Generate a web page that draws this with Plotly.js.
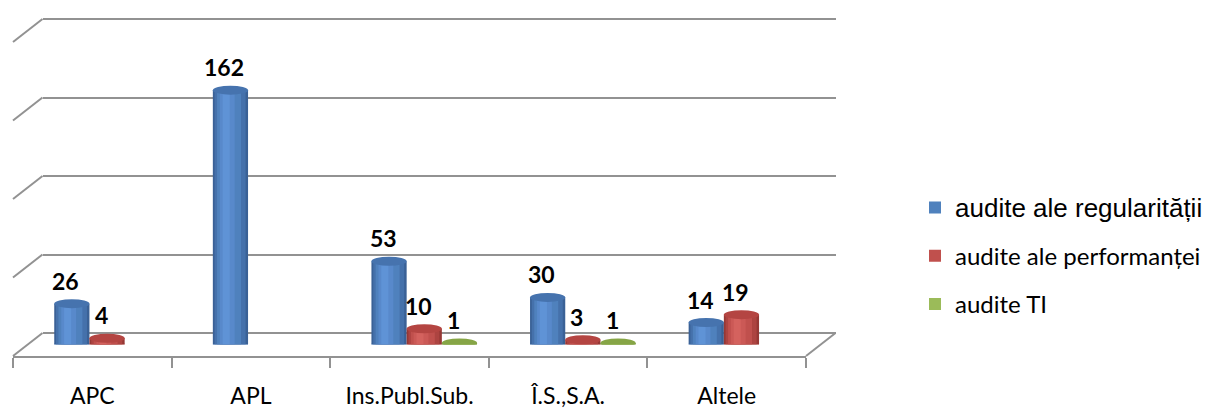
<!DOCTYPE html>
<html>
<head>
<meta charset="utf-8">
<script src="https://cdn.plot.ly/plotly-3.0.1.min.js"></script>
<style>
  html, body { margin: 0; padding: 0; background: #fff; }
  #chart { width: 1213px; height: 408px; }
</style>
</head>
<body>
<div id="chart"></div>
<script>
// Audit counts by type of public entity
const categories = ['APC', 'APL', 'Ins.Publ.Sub.', 'Î.S.,S.A.', 'Altele'];
const regularitate = [26, 162, 53, 30, 14];
const performanta = [4, null, 10, 3, 19];
const auditeTI = [null, null, 1, 1, null];
const seriesNames = ['audite ale regularității', 'audite ale performanței', 'audite TI'];
const gridValues = [0, 50, 100, 150, 200];

// Page geometry (pixels) for the oblique 3D frame
const W = 1213, H = 408;
const fx = p => p / W;
const fy = p => 1 - p / H;
const FRONT = { left: 13, right: 806, bottom: 356, top: 42 };
const DEPTH = { dx: 29.5, dy: 23 };
const YMAX = 200;
const WALL_MAX = YMAX + 1;   // a little headroom so the top gridline is kept
const shiftFrame = (f, t) => ({
  left: f.left + DEPTH.dx * t, right: f.right + DEPTH.dx * t,
  bottom: f.bottom - DEPTH.dy * t, top: f.top - DEPTH.dy * t
});
const BACK = shiftFrame(FRONT, 1);
const MID = shiftFrame(FRONT, 0.5);
const vy = (f, v) => f.bottom - (f.bottom - f.top) * v / YMAX;

// Cylinder styling: layered strips give a rounded, shaded body
const BAR_W = 0.222;
const seriesStyle = [
  { layers: ['#3a6196', '#4571ab', '#4f81bd', '#5889cb', '#5f93d6'], base: '#4676b4', cap: '#4673ae' },
  { layers: ['#963835', '#ad4441', '#c0504d', '#cb5956', '#d4625e'], base: '#b34845', cap: '#b44542' },
  { layers: ['#6f8a38', '#86a448', '#9bbb59', '#a3c463', '#aacb6b'], base: '#8eae4f', cap: '#86a546' }
];
// strip extents as fractions of the bar width
const strips = [[0, 1], [0.05, 0.93], [0.12, 0.8], [0.2, 0.62], [0.28, 0.48]];
const LEGEND_LAYER = 2;

const seriesValues = [regularitate, performanta, auditeTI];
const idx = categories.map((_, i) => i);
const greyLine = '#929292';

const traces = [];

// Back wall carrier (gridlines only)
traces.push({
  type: 'scatter', mode: 'none', x: [0, 1], y: [0, YMAX],
  xaxis: 'x', yaxis: 'y', showlegend: false, hoverinfo: 'skip'
});

// Front axis carrier (category labels, floor front edge)
traces.push({
  type: 'scatter', mode: 'none', x: categories, y: categories.map(() => 0),
  xaxis: 'x2', yaxis: 'y2', showlegend: false, hoverinfo: 'skip'
});

const shapes = [];
const annotations = [];

seriesValues.forEach((vals, k) => {
  const st = seriesStyle[k];
  const off = (k - 1.5) * BAR_W;
  strips.forEach(([r0, r1], j) => {
    traces.push({
      type: 'bar', x: idx, y: vals, xaxis: 'x3', yaxis: 'y3',
      width: BAR_W * (r1 - r0), offset: off + BAR_W * r0,
      marker: { color: st.layers[j], line: { width: 0 } },
      name: k === 0
        ? '<span style="font-family:Liberation Sans;font-size:26px">' + seriesNames[k] + '</span>'
        : seriesNames[k],
      legendgroup: 'g' + k,
      showlegend: j === LEGEND_LAYER,
      hoverinfo: 'skip'
    });
  });
  vals.forEach((v, i) => {
    if (v === null || v === undefined) return;
    const x0 = i + off, x1 = i + off + BAR_W;
    shapes.push({
      type: 'circle', xref: 'x3', yref: 'y3', ysizemode: 'pixel', yanchor: 0,
      x0, x1, y0: -4.5, y1: 4.5, fillcolor: st.base, line: { width: 0 }, layer: 'between'
    });
    shapes.push({
      type: 'circle', xref: 'x3', yref: 'y3', ysizemode: 'pixel', yanchor: v,
      x0, x1, y0: -4.5, y1: 4.5, fillcolor: st.cap, line: { width: 0 }, layer: 'above'
    });
    annotations.push({
      xref: 'x3', yref: 'y3', x: (x0 + x1) / 2, y: v, text: '<b>' + v + '</b>',
      showarrow: false, yshift: 23, xshift: -6,
      font: { family: 'Lato', size: 23, color: '#000' }
    });
  });
});

// Side-wall diagonals at each gridline, plus the floor's right edge
gridValues.forEach(v => {
  shapes.push({
    type: 'line', xref: 'paper', yref: 'paper',
    x0: fx(FRONT.left), y0: fy(vy(FRONT, v)), x1: fx(BACK.left), y1: fy(vy(BACK, v)),
    line: { color: greyLine, width: 2 }, layer: 'below'
  });
});
shapes.push({
  type: 'line', xref: 'paper', yref: 'paper',
  x0: fx(FRONT.right), y0: fy(FRONT.bottom), x1: fx(BACK.right), y1: fy(BACK.bottom),
  line: { color: greyLine, width: 2 }, layer: 'below'
});

const layout = {
  width: W, height: H, autosize: false,
  margin: { l: 0, r: 0, t: 0, b: 0, pad: 0 },
  paper_bgcolor: '#fff', plot_bgcolor: 'rgba(0,0,0,0)',
  barmode: 'overlay',
  showlegend: true,
  // back wall with gridlines
  xaxis: {
    domain: [fx(BACK.left), fx(BACK.right)], range: [0, 1], anchor: 'y',
    showgrid: false, zeroline: false, showline: false, showticklabels: false, ticks: ''
  },
  yaxis: {
    domain: [fy(BACK.bottom), fy(vy(BACK, WALL_MAX))], range: [0, WALL_MAX], anchor: 'x',
    tickvals: gridValues, showticklabels: false, ticks: '',
    showgrid: true, gridcolor: greyLine, gridwidth: 2,
    zeroline: true, zerolinecolor: greyLine, zerolinewidth: 2, showline: false
  },
  // front edge with category labels
  xaxis2: {
    domain: [fx(FRONT.left), fx(FRONT.right)], anchor: 'y2', type: 'category',
    categoryarray: categories, range: [-0.5, categories.length - 0.5],
    showline: true, linecolor: greyLine, linewidth: 2,
    ticks: 'outside', tickson: 'boundaries', ticklen: 10, tickwidth: 2, tickcolor: greyLine,
    tickfont: { family: 'Lato', size: 23, color: '#000' }, ticklabelstandoff: 18,
    showgrid: false, zeroline: false
  },
  yaxis2: { domain: [fy(FRONT.bottom), fy(FRONT.top)], range: [0, YMAX], visible: false, anchor: 'x2' },
  // mid-depth plane where the cylinders stand
  xaxis3: { domain: [fx(MID.left), fx(MID.right)], range: [-0.5, categories.length - 0.5], visible: false, anchor: 'y3' },
  yaxis3: { domain: [fy(MID.bottom), fy(MID.top)], range: [0, YMAX], visible: false, anchor: 'x3' },
  legend: {
    x: fx(915), xanchor: 'left', y: fy(256), yanchor: 'middle',
    font: { family: 'Lato', size: 24, color: '#000' },
    bgcolor: 'rgba(0,0,0,0)', tracegroupgap: 14, traceorder: 'grouped'
  },
  shapes, annotations
};

Plotly.newPlot('chart', traces, layout, { staticPlot: true, displayModeBar: false });
</script>
</body>
</html>
